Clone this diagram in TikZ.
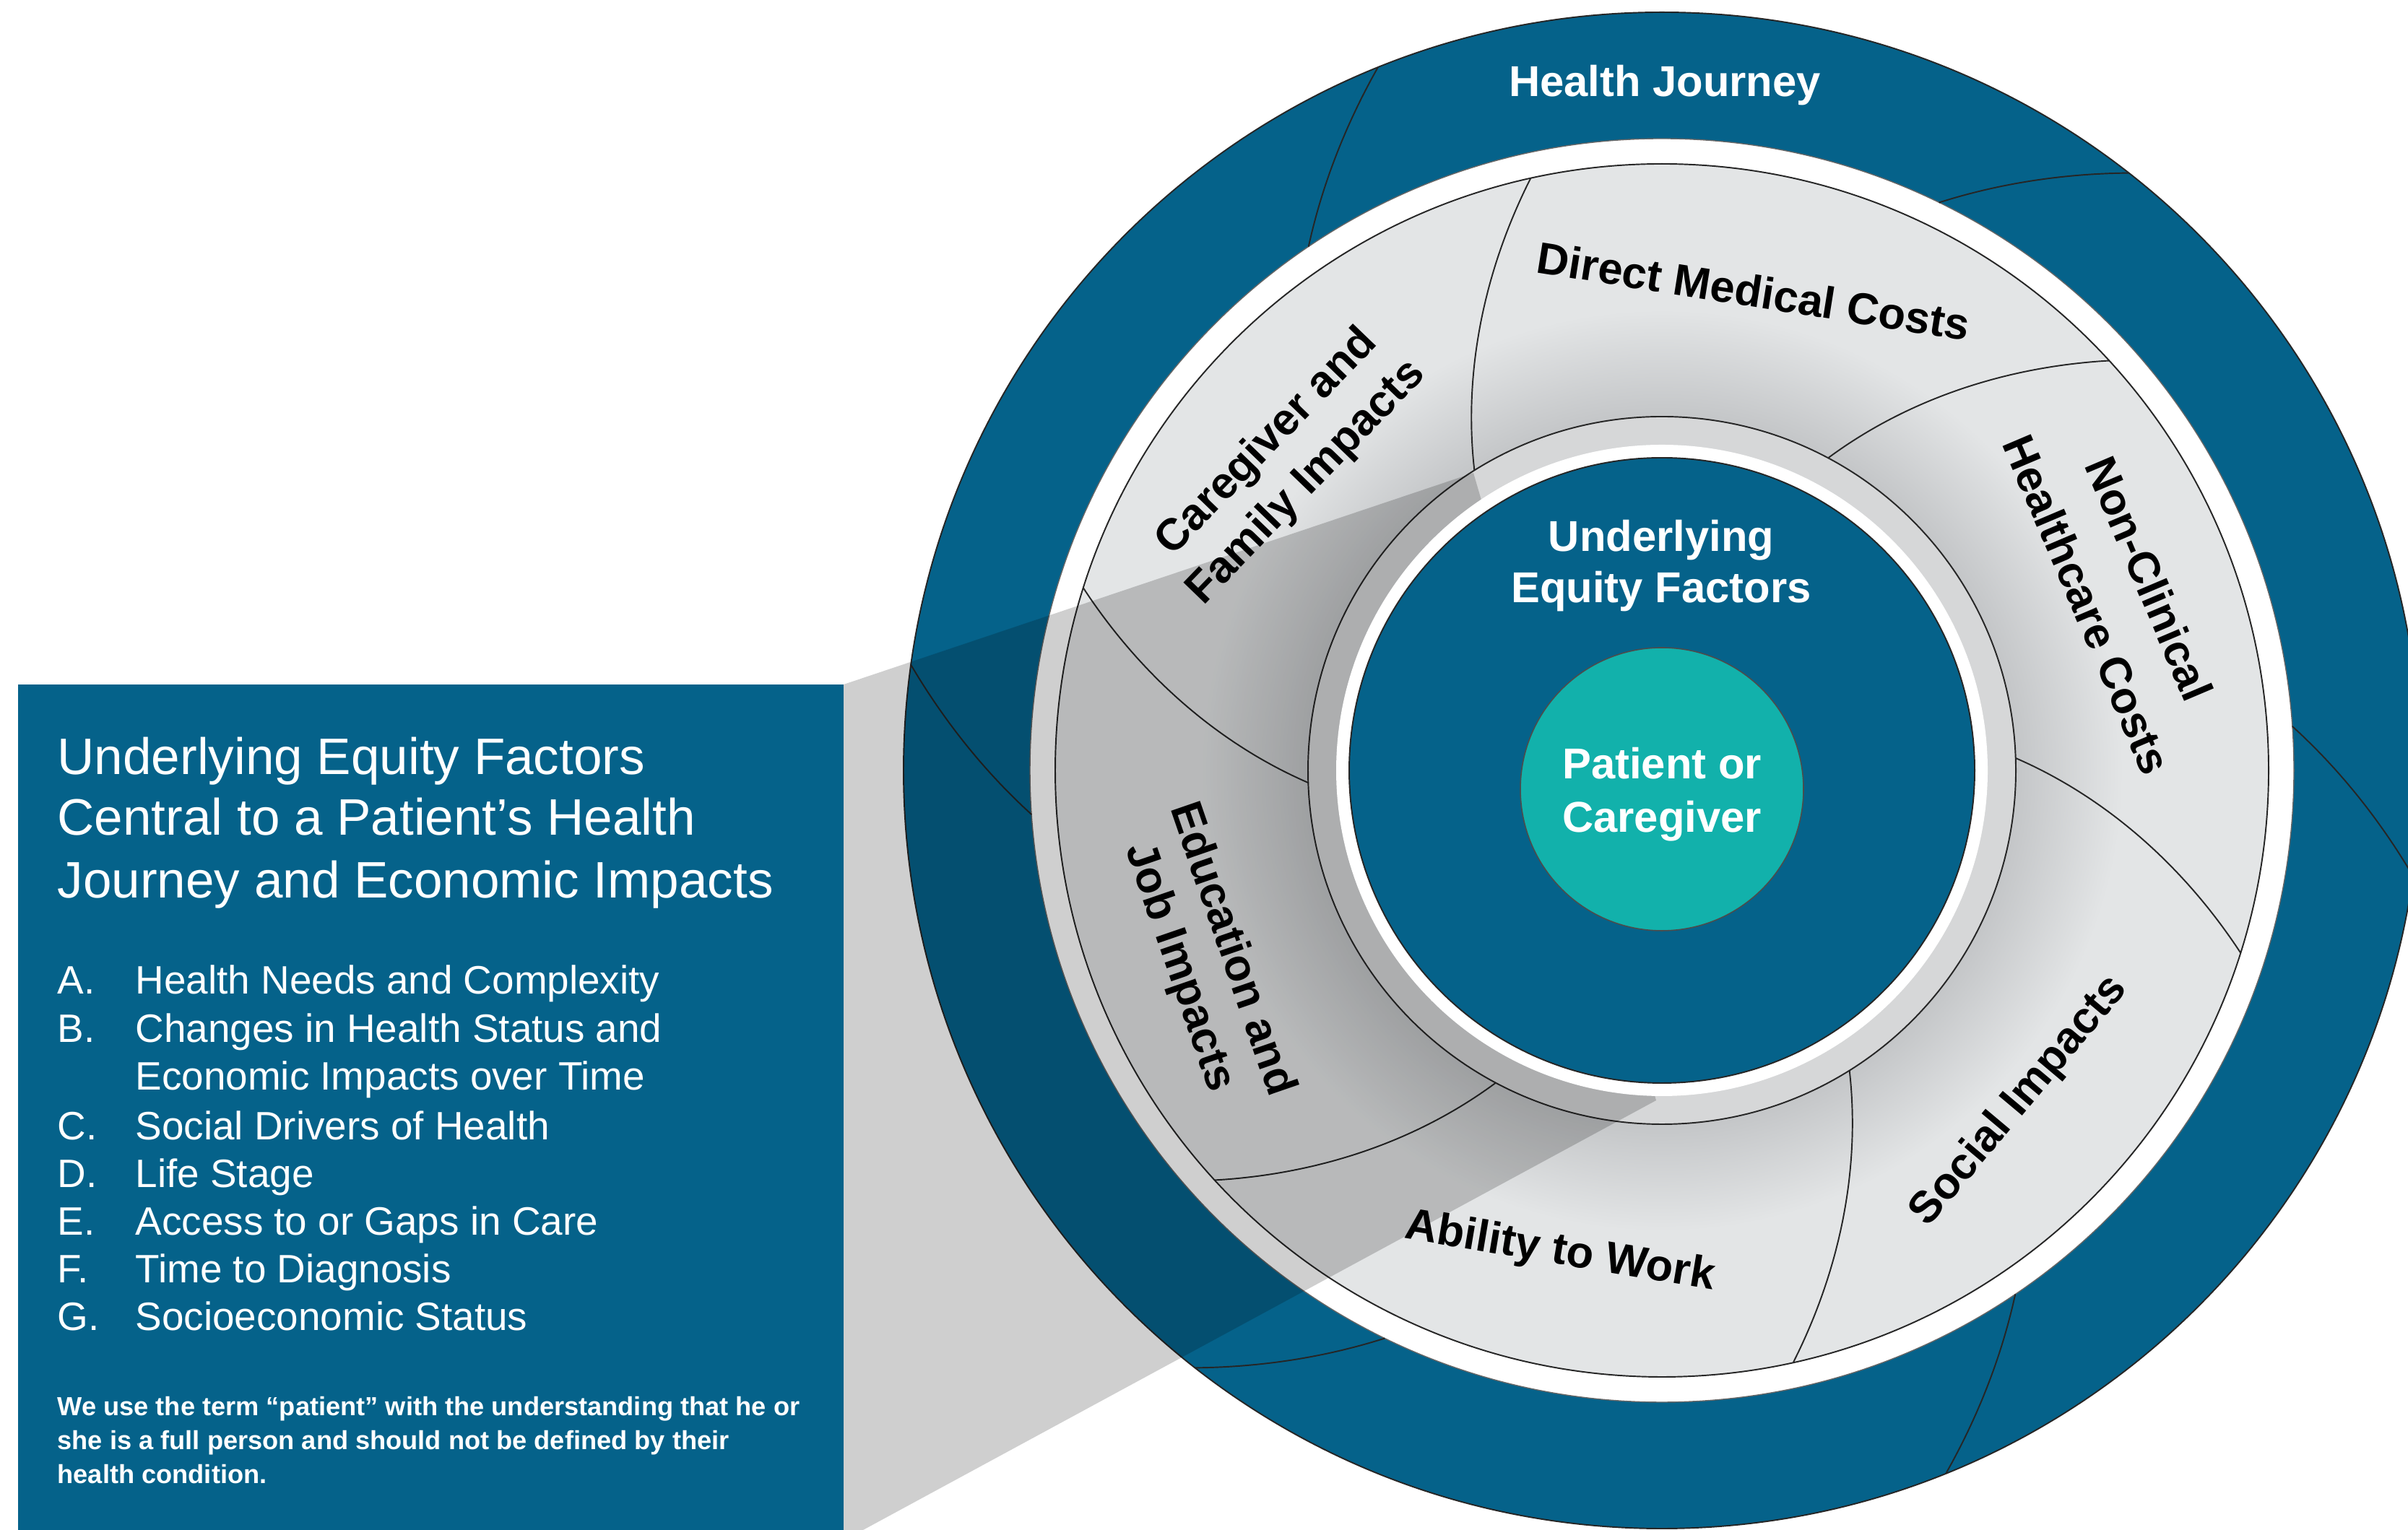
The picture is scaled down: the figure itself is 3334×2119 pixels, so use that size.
\documentclass[tikz,border=0pt]{standalone}
\usepackage{fontspec}
\setmainfont{Liberation Sans}
\definecolor{dkblue}{HTML}{05628A}
\definecolor{tealc}{HTML}{12B1AB}
\definecolor{ringlight}{HTML}{E3E5E6}
\definecolor{ringdark}{HTML}{C4C6C8}
\definecolor{bezelc}{HTML}{D6D7D8}
\pgfdeclareradialshading{ringshade}{\pgfpoint{0bp}{0bp}}{color(0bp)=(ringdark); color(14.6bp)=(ringdark); color(19bp)=(ringlight); color(25bp)=(ringlight); color(50bp)=(ringlight)}
\begin{document}
\begin{tikzpicture}[x=0.01cm,y=0.01cm,
  edge/.style={draw=black!85,line width=0.55pt},
  lbl/.style={inner sep=0pt,font=\bfseries\fontsize{17}{21}\selectfont},
  seg/.style={lbl,text=black,font=\bfseries\fontsize{17.5}{22.5}\selectfont},
  ptitle/.style={inner sep=0pt,anchor=base west,text=white,font=\fontsize{20.2}{24}\selectfont},
  plist/.style={inner sep=0pt,anchor=base west,text=white,font=\fontsize{15.6}{18}\selectfont},
  pnote/.style={inner sep=0pt,anchor=base west,text=white,font=\bfseries\fontsize{10.3}{13}\selectfont}]
\useasboundingbox (0,0) rectangle (3334,2119);
\coordinate (C) at (2301,1052);
% outer dark ring
\fill[dkblue,even odd rule] (C) circle (1050) (C) circle (875);
\draw[edge] (C) circle (1050);
\draw[draw=black!60,line width=0.4pt] (C) circle (875);
% light ring
\shade[shading=ringshade] (C) circle (840);
\draw[edge] (C) circle (840);
\fill[bezelc] (C) circle (490);
\draw[edge] (C) circle (490);
% dividers and seams
\begin{scope}[shift={(C)}]
\foreach \a in {122,62,2,-58,-118,182}
  \draw[edge] plot[domain=0:1,samples=30,smooth] ({\a-19.5*\x}:{490+350*\x});
\foreach \a in {124,64,4,-56,-116,184}
  \draw[edge] plot[domain=0:1,samples=30,smooth] ({\a-12*\x}:{875+175*\x});
\end{scope}
% shadow
\fill[black,opacity=0.19] (1168,1171) -- (2040,1464) -- (2293,595) -- (1195,0) -- (1168,0) -- cycle;
% centre
\fill[white] (C) circle (451);
\fill[dkblue] (C) circle (433);
\draw[edge] (C) circle (433);
\coordinate (T) at (2301,1026);
\fill[tealc] (T) circle (196);
\draw[draw=black!70,line width=0.45pt] (T) circle (196);
% circle labels
\node[lbl,text=white,anchor=base] (hj) at (2305,1985) {Health Journey};
\node[lbl,text=white,anchor=base] (uef1) at (2300,1355) {Underlying};
\node[lbl,text=white,anchor=base] (uef2) at (2300,1284) {Equity Factors};
\node[lbl,text=white,anchor=base] (pc1) at (2301,1040) {Patient or};
\node[lbl,text=white,anchor=base] (pc2) at (2301,966) {Caregiver};
% segment labels (one node per line)
\node[seg,rotate=-9] (dmc) at (2428,1716) {Direct Medical Costs};
\node[seg,rotate=46] (cfi1) at (1755,1506) {Caregiver and};
\node[seg,rotate=46] (cfi2) at (1809,1450) {Family Impacts};
\node[seg,rotate=-67] (nhc1) at (2976,1318) {Non-Clinical};
\node[seg,rotate=-67] (nhc2) at (2890,1282) {Healthcare Costs};
\node[seg,rotate=50] (si) at (2796,594) {Social Impacts};
\node[seg,rotate=-9.5] (aw) at (2160,384) {Ability to Work};
\node[seg,rotate=-71] (ej1) at (1710,806) {Education and};
\node[seg,rotate=-71] (ej2) at (1632,779) {Job Impacts};
% panel
\fill[dkblue] (25,0) rectangle (1168,1171);
\node[ptitle] (t1) at (79,1046) {Underlying Equity Factors};
\node[ptitle] (t2) at (79,962) {Central to a Patient’s Health};
\node[ptitle] (t3) at (79,875) {Journey and Economic Impacts};
\node[plist] (la) at (79,742) {A.};
\node[plist] (ia) at (187,742) {Health Needs and Complexity};
\node[plist] (lb) at (79,675) {B.};
\node[plist] (ib) at (187,675) {Changes in Health Status and};
\node[plist] (ib2) at (187,609) {Economic Impacts over Time};
\node[plist] (lc) at (79,540) {C.};
\node[plist] (ic) at (187,540) {Social Drivers of Health};
\node[plist] (ld) at (79,474) {D.};
\node[plist] (id) at (187,474) {Life Stage};
\node[plist] (le) at (79,408) {E.};
\node[plist] (ie) at (187,408) {Access to or Gaps in Care};
\node[plist] (lf) at (79,342) {F.};
\node[plist] (if) at (187,342) {Time to Diagnosis};
\node[plist] (lg) at (79,276) {G.};
\node[plist] (ig) at (187,276) {Socioeconomic Status};
\node[pnote] (n1) at (79,158) {We use the term “patient” with the understanding that he or};
\node[pnote] (n2) at (79,111) {she is a full person and should not be defined by their};
\node[pnote] (n3) at (79,64) {health condition.};
\end{tikzpicture}
\end{document}
